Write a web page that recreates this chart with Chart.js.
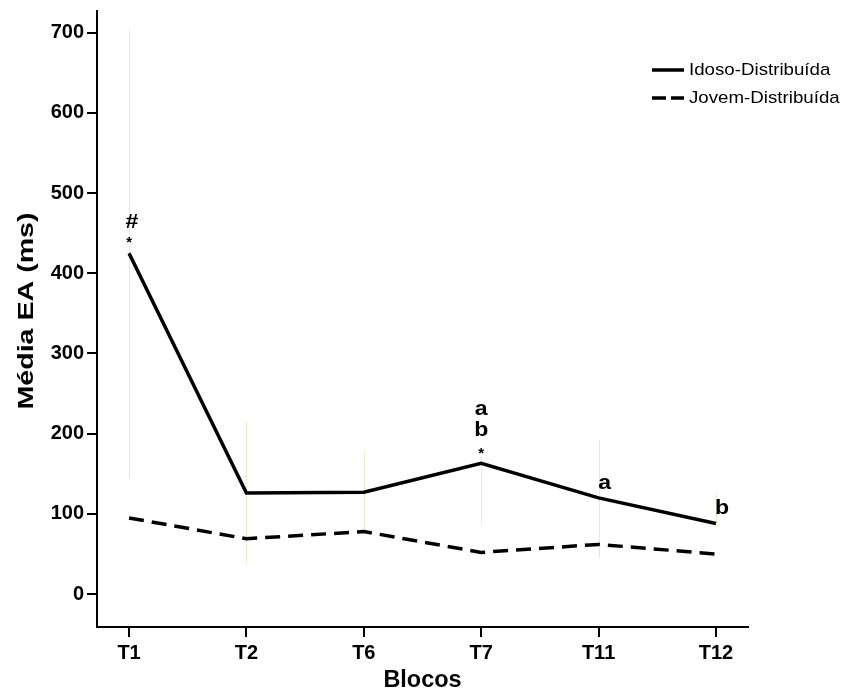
<!DOCTYPE html>
<html>
<head>
<meta charset="utf-8">
<script src="https://cdn.jsdelivr.net/npm/chart.js@4/dist/chart.umd.min.js"></script>
<style>
html,body{margin:0;padding:0;background:#fff;}
#wrap{width:855px;height:700px;position:relative;}
</style>
</head>
<body>
<div id="wrap"><canvas id="c" width="855" height="700"></canvas></div>
<script>
const categories = ['T1','T2','T6','T7','T11','T12'];
const idosoValues = [425, 126, 127, 163, 120, 88];
const jovemValues = [95, 69, 78, 52, 62, 50];
const idosoErrLow = [144, 38, 76, 87, 46, 88];
const idosoErrHigh = [705, 214, 177, 171, 192, 126];
const yTickValues = [0,100,200,300,400,500,600,700];
const xTitle = 'Blocos';
const yTitle = 'Média EA (ms)';
const annotations = [
  {cat:'T1', series:0, lines:['#','*']},
  {cat:'T7', series:0, lines:['a','b','*']},
  {cat:'T11', series:0, lines:['a'], side:true},
  {cat:'T12', series:0, lines:['b'], side:true}
];

const FONT = '"Liberation Sans", Arial, sans-serif';

function stretchedText(ctx, text, x, y, sx){
  ctx.save();
  ctx.translate(x, y);
  ctx.scale(sx, 1);
  ctx.fillText(text, 0, 0);
  ctx.restore();
}

const errorBars = {
  id:'errorBars',
  beforeDatasetsDraw(chart){
    const {ctx, scales:{x,y}} = chart;
    ctx.save();
    ctx.strokeStyle = '#eee7c3';
    ctx.lineWidth = 1;
    categories.forEach((c,i)=>{
      const px = Math.round(x.getPixelForValue(i))+0.5;
      ctx.beginPath();
      ctx.moveTo(px, y.getPixelForValue(idosoErrLow[i]));
      ctx.lineTo(px, y.getPixelForValue(idosoErrHigh[i]));
      ctx.stroke();
    });
    ctx.restore();
  }
};

const notes = {
  id:'notes',
  afterDatasetsDraw(chart){
    const {ctx, scales:{x,y}} = chart;
    ctx.save();
    ctx.fillStyle = '#000';
    ctx.textAlign = 'center';
    ctx.textBaseline = 'middle';
    annotations.forEach(a=>{
      const i = categories.indexOf(a.cat);
      const v = chart.data.datasets[a.series].data[i].y;
      const px = x.getPixelForValue(i);
      const py = y.getPixelForValue(v);
      const n = a.lines.length;
      a.lines.forEach((t,k)=>{
        const fromBottom = n-1-k;
        if (t === '*') {
          ctx.font = 'bold 15px ' + FONT;
          ctx.fillText(t, px, py - 10);
        } else if (a.side) {
          ctx.font = 'bold 21px ' + FONT;
          stretchedText(ctx, t, px + 6, py - 15, 1.1);
        } else {
          ctx.font = 'bold 21px ' + FONT;
          stretchedText(ctx, t, px + (t === '#' ? 3 : 0), py - 12 - fromBottom*21 + (t === '#' ? 2 : 0), 1.1);
        }
      });
    });
    ctx.restore();
  }
};

const titlesPlugin = {
  id:'titles',
  afterDraw(chart){
    const {ctx, chartArea} = chart;
    ctx.save();
    ctx.fillStyle = '#000';
    ctx.textAlign = 'center';
    ctx.textBaseline = 'middle';
    ctx.font = 'bold 23px ' + FONT;
    stretchedText(ctx, xTitle, (chartArea.left + chartArea.right)/2, 681, 1.02);
    ctx.save();
    ctx.translate(27, 311);
    ctx.rotate(-Math.PI/2);
    ctx.font = 'bold 22px ' + FONT;
    stretchedText(ctx, yTitle, 0, 0, 1.3);
    ctx.restore();
    ctx.restore();
  }
};

const legendPlugin = {
  id:'customLegend',
  afterDraw(chart){
    const {ctx} = chart;
    ctx.save();
    ctx.font = '17px ' + FONT;
    ctx.textBaseline = 'middle';
    ctx.textAlign = 'left';
    chart.data.datasets.forEach((ds,k)=>{
      const yy = 70 + k*28;
      ctx.strokeStyle = ds.borderColor;
      ctx.lineWidth = ds.borderWidth;
      ctx.setLineDash(k ? [14,5] : []);
      ctx.beginPath();
      ctx.moveTo(652, yy);
      ctx.lineTo(684, yy);
      ctx.stroke();
      ctx.setLineDash([]);
      ctx.fillStyle = '#000';
      stretchedText(ctx, ds.label, 689, yy, 1.1);
    });
    ctx.restore();
  }
};

new Chart(document.getElementById('c'), {
  type:'line',
  data:{
    datasets:[
      {label:'Idoso-Distribuída', data: idosoValues.map((v,i)=>({x:i,y:v})), borderColor:'#000', borderWidth:3.5, pointRadius:0, fill:false, tension:0},
      {label:'Jovem-Distribuída', data: jovemValues.map((v,i)=>({x:i,y:v})), borderColor:'#000', borderWidth:3.5, borderDash:[15,8], pointRadius:0, fill:false, tension:0}
    ]
  },
  options:{
    responsive:false,
    animation:false,
    layout:{padding:{left:0,right:107,top:9,bottom:0}},
    plugins:{legend:{display:false}, tooltip:{enabled:false}},
    scales:{
      x:{
        type:'linear', min:-0.273, max:5.273,
        afterBuildTicks(s){ s.ticks = categories.map((c,i)=>({value:i})); },
        afterFit(s){ s.height = 73; },
        ticks:{ callback:(v)=>categories[v], color:'#000', font:{family:FONT, size:20, weight:'bold'}, padding:4, maxRotation:0, autoSkip:false },
        grid:{ drawOnChartArea:false, drawTicks:true, tickLength:10, color:'#000', lineWidth:2 },
        border:{ color:'#000', width:2 },
        title:{ display:false }
      },
      y:{
        type:'linear', min:-41, max:727,
        afterBuildTicks(s){ s.ticks = yTickValues.map(v=>({value:v})); },
        afterFit(s){ s.width = 97; },
        ticks:{ color:'#000', font:{family:FONT, size:20, weight:'bold', lineHeight:0.8}, padding:3 },
        grid:{ drawOnChartArea:false, drawTicks:true, tickLength:10, color:'#000', lineWidth:2 },
        border:{ color:'#000', width:2 },
        title:{ display:false }
      }
    }
  },
  plugins:[errorBars, notes, titlesPlugin, legendPlugin]
});
</script>
</body>
</html>
